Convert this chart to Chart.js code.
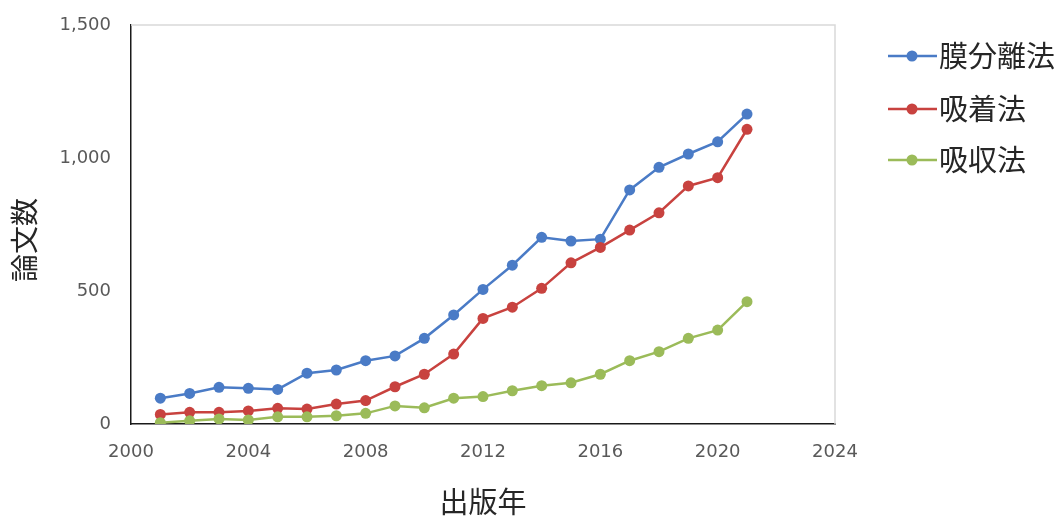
<!DOCTYPE html>
<html>
<head>
<meta charset="utf-8">
<script src="https://cdn.jsdelivr.net/npm/chart.js@4"></script>
<style>
  html, body { margin: 0; padding: 0; background: #fff; }
  #wrap { width: 1063px; height: 516px; }
</style>
</head>
<body>
<div id="wrap"><canvas id="paperChart" width="1063" height="516"></canvas></div>
<script>
// 出版年ごとの論文数
const years = [2001, 2002, 2003, 2004, 2005, 2006, 2007, 2008, 2009, 2010, 2011,
               2012, 2013, 2014, 2015, 2016, 2017, 2018, 2019, 2020, 2021];
const seriesNames = ['膜分離法', '吸着法', '吸収法'];
const membrane = [97, 115, 138, 134, 130, 191, 203, 238, 256, 322, 410,
                  506, 597, 702, 688, 695, 880, 965, 1015, 1061, 1165];
const adsorption = [36, 44, 44, 49, 59, 56, 75, 88, 140, 187, 263,
                    397, 439, 510, 606, 664, 729, 794, 895, 926, 1108];
const absorption = [5, 12, 19, 15, 27, 27, 31, 40, 68, 61, 97,
                    103, 125, 144, 155, 187, 238, 272, 322, 353, 460];
const xTicks = [2000, 2004, 2008, 2012, 2016, 2020, 2024];
const yTicks = [0, 500, 1000, 1500];
const colors = ['#4A7BC6', '#C8423F', '#9BBB59'];

const JP = '"Noto Sans CJK JP", "Noto Sans", sans-serif';

function toPoints(values) {
    return years.map((y, i) => ({ x: y, y: values[i] }));
}

function makeSet(label, values, color, order) {
    return {
        label: label,
        data: toPoints(values),
        showLine: true,
        borderColor: color,
        backgroundColor: color,
        borderWidth: 2.5,
        pointRadius: 5.5,
        pointHoverRadius: 5.5,
        pointBorderWidth: 0,
        order: order,
    };
}

// light frame round the plot + y title + legend on the right
const extras = {
    id: 'extras',
    beforeDatasetsDraw(chart) {
        const { ctx, chartArea: a } = chart;
        ctx.save();
        ctx.strokeStyle = '#d9d9d9';
        ctx.lineWidth = 1.5;
        ctx.beginPath();
        ctx.moveTo(a.left, a.top);
        ctx.lineTo(a.right, a.top);
        ctx.lineTo(a.right, a.bottom);
        ctx.stroke();
        ctx.restore();
    },
    afterDraw(chart) {
        const ctx = chart.ctx;
        ctx.save();
        // y axis title
        ctx.translate(24, 240);
        ctx.rotate(-Math.PI / 2);
        ctx.font = '28px ' + JP;
        ctx.fillStyle = '#262626';
        ctx.textAlign = 'center';
        ctx.textBaseline = 'middle';
        ctx.fillText('論文数', 0, 0);
        ctx.restore();

        // legend
        const rowsY = [56, 109, 160];
        chart.data.datasets.forEach((ds, i) => {
            const y = rowsY[i];
            ctx.save();
            ctx.strokeStyle = ds.borderColor;
            ctx.fillStyle = ds.borderColor;
            ctx.lineWidth = 2.5;
            ctx.beginPath();
            ctx.moveTo(888, y);
            ctx.lineTo(937, y);
            ctx.stroke();
            ctx.beginPath();
            ctx.arc(912, y, 5.5, 0, Math.PI * 2);
            ctx.fill();
            ctx.font = '29px ' + JP;
            ctx.fillStyle = '#262626';
            ctx.textBaseline = 'middle';
            ctx.fillText(ds.label, 939, y);
            ctx.restore();
        });
    },
};

const ctx = document.getElementById('paperChart').getContext('2d');
const chart = new Chart(ctx, {
    type: 'scatter',
    data: {
        datasets: [
            makeSet(seriesNames[0], membrane, colors[0], 3),
            makeSet(seriesNames[1], adsorption, colors[1], 2),
            makeSet(seriesNames[2], absorption, colors[2], 1),
        ],
    },
    options: {
        responsive: false,
        animation: false,
        layout: { padding: { top: 25, right: 228, left: 0, bottom: 0 } },
        plugins: {
            legend: { display: false },
            tooltip: { enabled: false },
        },
        scales: {
            x: {
                type: 'linear',
                min: 2000,
                max: 2024,
                afterBuildTicks: (scale) => { scale.ticks = xTicks.map(v => ({ value: v })); },
                afterFit: (scale) => { scale.height = 92; },
                grid: { display: false, drawTicks: false },
                border: { color: '#1a1a1a', width: 1.5 },
                ticks: {
                    padding: 18,
                    color: '#595959',
                    font: { family: '"DejaVu Sans"', size: 18 },
                    callback: (v) => String(v),
                },
                title: {
                    display: true,
                    text: '出版年',
                    color: '#262626',
                    font: { family: JP, size: 29, lineHeight: 1 },
                    padding: { top: 0, bottom: 0 },
                },
            },
            y: {
                min: 0,
                max: 1500,
                afterBuildTicks: (scale) => { scale.ticks = yTicks.map(v => ({ value: v })); },
                afterFit: (scale) => { scale.width = 131; },
                // invisible tick length gives the label gap without pushing the top down
                grid: { display: false, drawTicks: true, tickLength: 17 },
                border: { color: '#1a1a1a', width: 1.5 },
                ticks: {
                    padding: 3,
                    color: '#595959',
                    font: { family: '"DejaVu Sans"', size: 18 },
                    callback: (v) => v.toLocaleString('en-US'),
                },
            },
        },
    },
    plugins: [extras],
});
</script>
</body>
</html>
